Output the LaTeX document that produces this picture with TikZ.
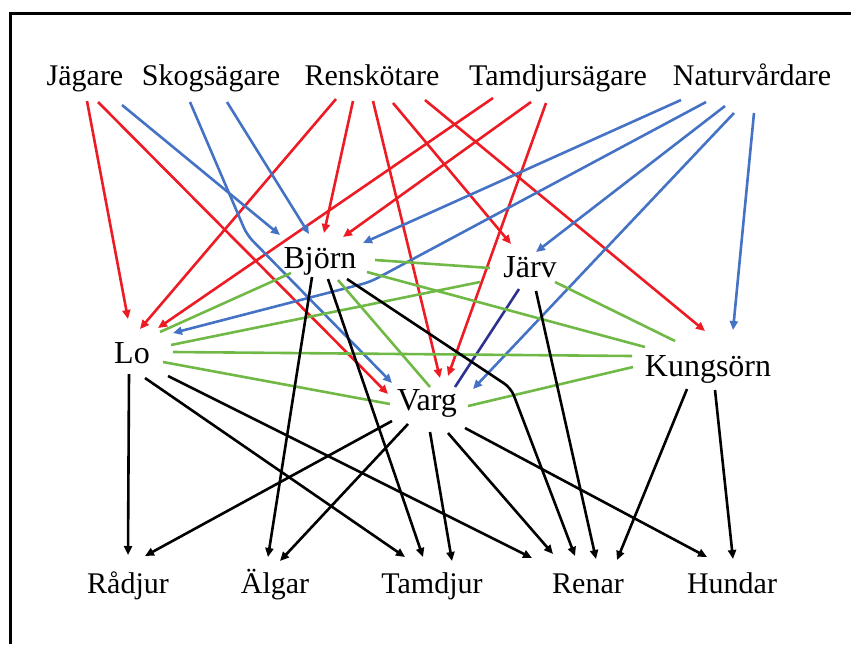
\documentclass[tikz,border=0pt]{standalone}
\usepackage{fontspec}
\setmainfont{Liberation Serif}
\usepackage{xcolor}
\definecolor{edred}{RGB}{237,28,36}
\definecolor{edblue}{RGB}{68,114,196}
\definecolor{edgreen}{RGB}{112,185,70}
\definecolor{ednavy}{RGB}{46,49,146}
\usetikzlibrary{arrows.meta,calc}

\tikzset{
  grupp/.style={font=\fontsize{15}{18}\selectfont, anchor=base, inner sep=1pt},
  rovdjur/.style={font=\fontsize{16}{19}\selectfont, anchor=base, inner sep=1pt},
  byte/.style={font=\fontsize{15}{18}\selectfont, anchor=base, inner sep=1pt},
  pil/.style={-{Triangle[length=4.5pt,width=4pt]}, line width=1.3pt},
  band/.style={line width=1.3pt, edgreen},
}

\begin{document}
\begin{tikzpicture}[x=0.5pt, y=-0.5pt]
  \useasboundingbox (0,0) rectangle (851,644);
  \draw[line width=1.2pt] (10.5,644) -- (10.5,13.5) -- (851,13.5);

  %--- Actors ---
  \node[grupp] (jag) at (85,85) {Jägare};
  \node[grupp] (skog) at (211,85) {Skogsägare};
  \node[grupp] (ren) at (372,85) {Renskötare};
  \node[grupp] (tamd) at (558,85) {Tamdjursägare};
  \node[grupp] (natur) at (752,85) {Naturvårdare};

  %--- Predators ---
  \node[rovdjur] (bjorn) at (320,268) {Björn};
  \node[rovdjur] (jarv) at (530,277) {Järv};
  \node[rovdjur] (lo) at (132,363) {Lo};
  \node[rovdjur] (kung) at (708,376) {Kungsörn};
  \node[rovdjur] (varg) at (427,410) {Varg};

  %--- Prey ---
  \node[byte] (radjur) at (128,593) {Rådjur};
  \node[byte] (algar) at (275,593) {Älgar};
  \node[byte] (tamdjur) at (432,593) {Tamdjur};
  \node[byte] (renar) at (588,593) {Renar};
  \node[byte] (hundar) at (732,593) {Hundar};

  % Red arrows
  \draw[pil, edred] ($(jag.base)+(2,16)$) -- ($(lo.base)+(-4,-44)$);
  \draw[pil, edred] ($(jag.base)+(13,17)$) -- ($(varg.base)+(-39,-16)$);
  \draw[pil, edred] ($(ren.base)+(-36,14)$) -- ($(lo.base)+(8,-34)$);
  \draw[pil, edred] ($(ren.base)+(-19,16)$) -- ($(bjorn.base)+(4,-35)$);
  \draw[pil, edred] ($(ren.base)+(1,16)$) -- ($(varg.base)+(13,-32)$);
  \draw[pil, edred] ($(ren.base)+(21,18)$) -- ($(jarv.base)+(-19,-33)$);
  \draw[pil, edred] ($(ren.base)+(53,15)$) -- ($(kung.base)+(-3,-45)$);
  \draw[pil, edred] ($(tamd.base)+(-65,13)$) -- ($(lo.base)+(26,-35)$);
  \draw[pil, edred] ($(tamd.base)+(-27,17)$) -- ($(bjorn.base)+(23,-31)$);
  \draw[pil, edred] ($(tamd.base)+(-12,18)$) -- ($(varg.base)+(21,-34)$);

  % Blue arrows
  \draw[pil, edblue] ($(skog.base)+(-89,20)$) -- ($(bjorn.base)+(-40,-33)$);
  \draw[pil, edblue, rounded corners=4pt] ($(skog.base)+(-21,17)$) -- ++(57,133) -- ($(varg.base)+(-35,-27)$);
  \draw[pil, edblue] ($(skog.base)+(16,17)$) -- ($(bjorn.base)+(-11,-34)$);
  \draw[pil, edblue] ($(natur.base)+(-71,15)$) -- ($(bjorn.base)+(43,-25)$);
  \draw[pil, edblue, rounded corners=4pt] ($(natur.base)+(-46,17)$) -- ++(-336,180) -- ($(lo.base)+(41,-30)$);
  \draw[pil, edblue] ($(natur.base)+(-27,21)$) -- ($(jarv.base)+(6,-25)$);
  \draw[pil, edblue] ($(natur.base)+(-18,28)$) -- ($(varg.base)+(46,-21)$);
  \draw[pil, edblue] ($(natur.base)+(2,28)$) -- ($(kung.base)+(25,-46)$);
  \draw[line width=1.3pt, ednavy] ($(jarv.base)+(-11,12)$) -- ($(varg.base)+(28,-23)$);

  % Green links
  \draw[band] ($(bjorn.base)+(55,-8)$) -- ($(jarv.base)+(-40,-9)$);
  \draw[band] ($(bjorn.base)+(47,4)$) -- ($(kung.base)+(-63,-29)$);
  \draw[band] ($(bjorn.base)+(-29,5)$) -- ($(lo.base)+(28,-31)$);
  \draw[band] ($(bjorn.base)+(18,12)$) -- ($(varg.base)+(3,-23)$);
  \draw[band] ($(jarv.base)+(-50,5)$) -- ($(lo.base)+(39,-18)$);
  \draw[band] ($(jarv.base)+(25,5)$) -- ($(kung.base)+(-33,-35)$);
  \draw[band] ($(lo.base)+(41,-11)$) -- ($(kung.base)+(-76,-20)$);
  \draw[band] ($(lo.base)+(31,-1)$) -- ($(varg.base)+(-37,-6)$);
  \draw[band] ($(varg.base)+(41,-4)$) -- ($(kung.base)+(-75,-9)$);

  % Black arrows
  \draw[pil] ($(lo.base)+(-3,11)$) -- ($(radjur.base)+(0,-38)$);
  \draw[pil] ($(lo.base)+(13,15)$) -- ($(tamdjur.base)+(-27,-36)$);
  \draw[pil] ($(lo.base)+(36,13)$) -- ($(renar.base)+(-56,-35)$);
  \draw[pil] ($(bjorn.base)+(-8,9)$) -- ($(algar.base)+(-7,-36)$);
  \draw[pil] ($(bjorn.base)+(8,11)$) -- ($(tamdjur.base)+(-9,-36)$);
  \draw[pil, rounded corners=4pt] ($(bjorn.base)+(27,11)$) -- ++(164,109) -- ($(renar.base)+(-13,-37)$);
  \draw[pil] ($(jarv.base)+(6,14)$) -- ($(renar.base)+(8,-34)$);
  \draw[pil] ($(varg.base)+(-35,11)$) -- ($(radjur.base)+(17,-37)$);
  \draw[pil] ($(varg.base)+(-19,14)$) -- ($(algar.base)+(5,-32)$);
  \draw[pil] ($(varg.base)+(3,22)$) -- ($(tamdjur.base)+(20,-32)$);
  \draw[pil] ($(varg.base)+(21,23)$) -- ($(renar.base)+(-35,-39)$);
  \draw[pil] ($(varg.base)+(38,18)$) -- ($(hundar.base)+(-25,-36)$);
  \draw[pil] ($(kung.base)+(-21,13)$) -- ($(renar.base)+(29,-33)$);
  \draw[pil] ($(kung.base)+(7,14)$) -- ($(hundar.base)+(1,-34)$);
\end{tikzpicture}
\end{document}
